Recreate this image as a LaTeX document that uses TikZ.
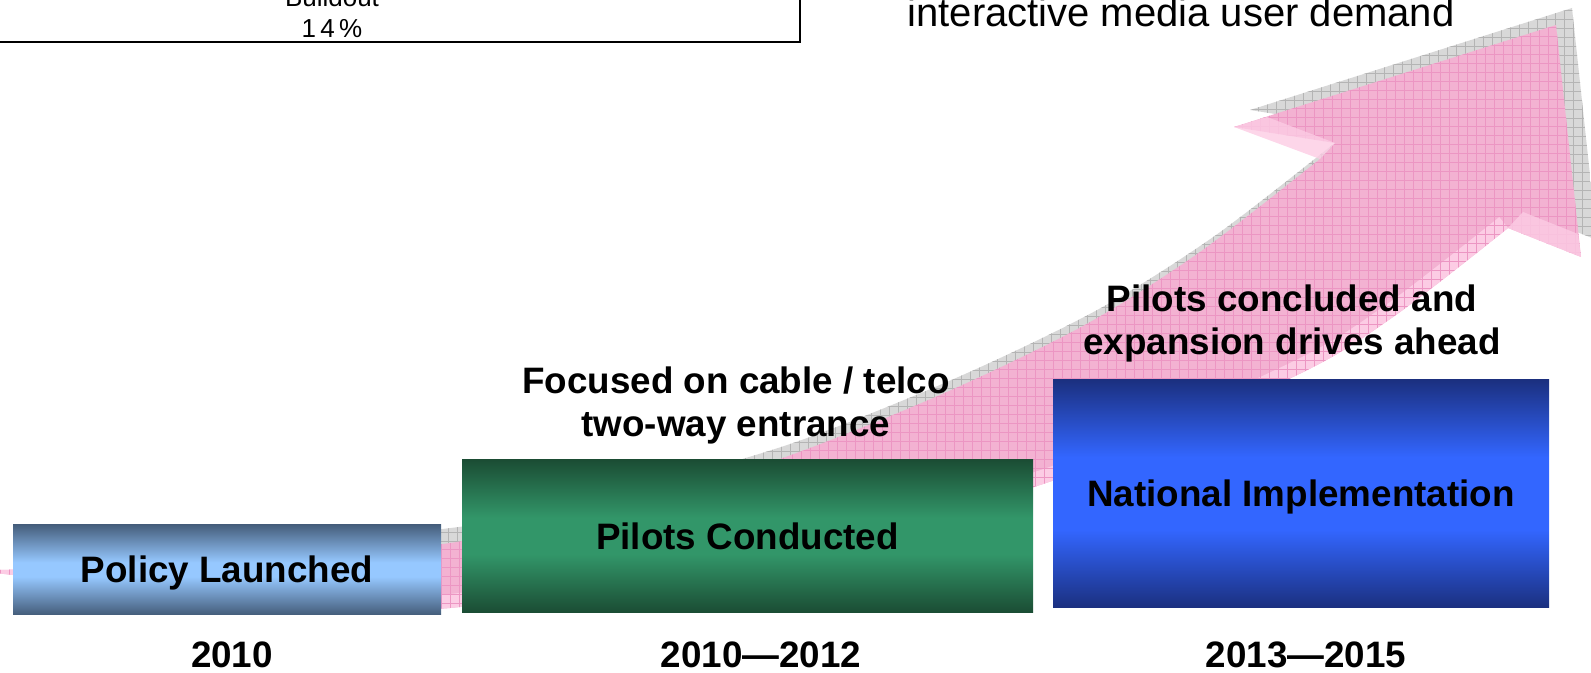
\documentclass[tikz,border=0pt]{standalone}
\usepackage{fontspec}
\setmainfont{Liberation Sans}
\usetikzlibrary{positioning}

\definecolor{policydark}{RGB}{70,95,125}
\definecolor{policylight}{RGB}{150,200,255}
\definecolor{pilotdark}{RGB}{27,77,52}
\definecolor{pilotlight}{RGB}{50,150,105}
\definecolor{nationdark}{RGB}{27,48,128}
\definecolor{nationlight}{RGB}{51,102,255}
\definecolor{arrowpink}{RGB}{243,178,210}
\definecolor{arrowlight}{RGB}{252,204,228}
\definecolor{pinkgrid}{RGB}{236,150,195}
\definecolor{shadowgray}{RGB}{216,216,216}
\definecolor{graygrid}{RGB}{180,180,180}

\pgfdeclareverticalshading{policyshade}{100bp}{color(0bp)=(policydark); color(25bp)=(policydark); color(46bp)=(policylight); color(54bp)=(policylight); color(75bp)=(policydark); color(100bp)=(policydark)}
\pgfdeclareverticalshading{pilotshade}{100bp}{color(0bp)=(pilotdark); color(25bp)=(pilotdark); color(44bp)=(pilotlight); color(56bp)=(pilotlight); color(75bp)=(pilotdark); color(100bp)=(pilotdark)}
\pgfdeclareverticalshading{nationshade}{100bp}{color(0bp)=(nationdark); color(25bp)=(nationdark); color(42bp)=(nationlight); color(58bp)=(nationlight); color(75bp)=(nationdark); color(100bp)=(nationdark)}

% outline of the big growth arrow (pixel units, y down)
\newcommand{\arrowlower}{plot[smooth] coordinates {(1508,228) (1393,317) (1293,377) (1040,485) (750,555) (450,608) (250,600) (13,575) (0,572)}}
\newcommand{\arrowoutline}{plot[smooth] coordinates {(0,570) (220,562) (450,543) (620,505) (777,460) (940,395) (1083,326) (1200,252) (1320,159)}
  -- (1335,143) -- (1234,127) -- (1556,25) -- (1581,257) -- (1508,228)
  -- plot[smooth] coordinates {(1508,228) (1393,317) (1293,377) (1040,485) (750,555) (450,608) (250,600) (13,575) (0,572)} -- cycle}

\tikzset{
  phasebox/.style={shade, inner sep=0pt, text height=13.2pt, text depth=0pt,
    font=\bfseries\fontsize{18.4pt}{21.5pt}\selectfont},
  caption/.style={inner sep=0pt, align=center, anchor=base, font=\bfseries\fontsize{18.4pt}{21.5pt}\selectfont},
  yearlabel/.style={inner sep=0pt, anchor=base, font=\bfseries\fontsize{18.4pt}{21.5pt}\selectfont},
  sharetext/.style={inner sep=0pt, anchor=base, font=\fontsize{13pt}{15pt}\selectfont}
}

\begin{document}
\begin{tikzpicture}[x=0.5pt, y=-0.5pt]

        \useasboundingbox (0,0) rectangle (1591,673);
        \clip (0,0) rectangle (1591,673);

        % Shadow of the arrow
        \begin{scope}[shift={(16,-17)}]
            \clip \arrowoutline;
            \fill[shadowgray] (0,673) rectangle (1591,0);
            \draw[graygrid, line width=0.3pt, step=4.5pt] (0,673) grid (1591,0);
        \end{scope}

        % Pink growth arrow
        \begin{scope}
            \clip \arrowoutline;
            \fill[arrowpink] (0,673) rectangle (1591,0);
            \draw[arrowlight, line width=14pt] \arrowlower;
            \draw[pinkgrid, line width=0.3pt, step=4.5pt] (0,673) grid (1591,0);
        \end{scope}
        \fill[arrowlight, opacity=0.8] (1234,127) -- (1267,117) -- (1335,143) -- (1320,159) -- cycle;
        \fill[arrowlight, opacity=0.8] (1508,228) -- (1523,212) -- (1578,234) -- (1581,257) -- cycle;

        % Box cut off at the top left
        \draw[line width=1pt] (-160,-80) rectangle (800,42);
        \node[sharetext] (buildout) at (332,7) {Buildout};
        \node[sharetext] (share) at (332,38) {1\,4\,\%};

        % Heading cut off at the top right
        \node[inner sep=0pt, anchor=base, font=\fontsize{20pt}{23pt}\selectfont] (demand) at (1181,27) {interactive media user demand};

        % Phase boxes
        \node[phasebox, shading=policyshade, minimum width=214pt, minimum height=44.5pt] (policy) at (227,569.5) {Policy Launched};
        \node[phasebox, shading=pilotshade, minimum width=285.5pt, minimum height=76pt] (pilots) at (747.5,536) {Pilots Conducted};
        \node[phasebox, shading=nationshade, minimum width=248pt, minimum height=113.5pt] (national) at (1301,493.5) {National Implementation};

        % Notes above the boxes (anchored at the last line)
        \node[caption] (focus) at (736,437) {Focused on cable / telco\\two-way entrance};
        \node[caption] (expand) at (1292,355) {Pilots concluded and\\expansion drives ahead};

        % Years
        \node[yearlabel] (y2010) at (232,667) {2010};
        \node[yearlabel] (y2012) at (761,667) {2010—2012};
        \node[yearlabel] (y2015) at (1306,667) {2013—2015};

    \end{tikzpicture}
\end{document}
